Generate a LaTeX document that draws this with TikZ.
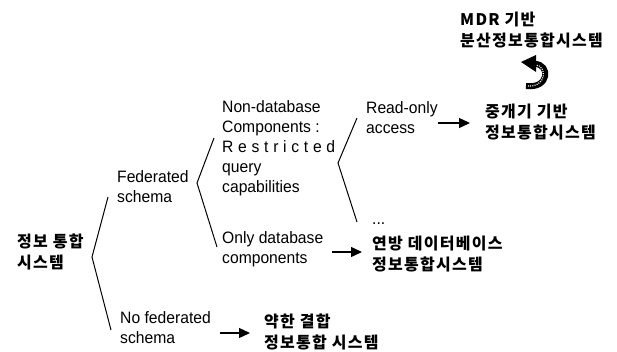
\documentclass[tikz,border=0pt]{standalone}
\usepackage{fontspec}
\setmainfont{Liberation Sans}[FakeStretch=0.95]
\newfontfamily\kr{Noto Sans CJK KR}[LetterSpace=8]
\usetikzlibrary{arrows.meta}
\tikzset{
  en/.style={anchor=base west, inner sep=0pt, align=left, font=\fontsize{16.5}{20}\selectfont},
  ko/.style={anchor=base west, inner sep=0pt, align=left, font=\kr\bfseries\fontsize{16}{21}\selectfont},
  brk/.style={line width=1pt},
  arr/.style={line width=1.3pt, -{Triangle[length=11pt,width=10pt]}},
}
\begin{document}
\begin{tikzpicture}[x=1pt,y=-1pt]
\useasboundingbox (0,0) rectangle (617,351);
% text blocks (anchored at the baseline of their last line)
\node[ko] (root) at (17,268) {정보 통합\\시스템};
\node[en] (fed) at (117,202) {Federated\\schema};
\node[en] (nofed) at (120,343) {No federated\\schema};
\node[ko] (weak) at (264,348) {약한 결합\\정보통합 시스템};
\node[en] (nondb) at (222,192) {Non-database\\Components :\\\makebox[113pt][s]{R e s t r i c t e d}\\query\\capabilities};
\node[en] (onlydb) at (222,263) {Only database\\components};
\node[en] (dots) at (372,224) {...};
\node[ko] (fedsys) at (372,270) {연방 데이터베이스\\정보통합시스템};
\node[en] (ro) at (366,133) {Read-only\\access};
\node[ko] (med) at (485,138) {중개기 기반\\정보통합시스템};
\node[ko] (mdr) at (460,46) {MDR 기반\\분산정보통합시스템};
% brackets
\coordinate (b1t) at (108,197); \coordinate (b1v) at (92,257); \coordinate (b1b) at (111,330);
\coordinate (b2t) at (214,138); \coordinate (b2v) at (197,183); \coordinate (b2b) at (217,247);
\coordinate (b3t) at (357,118); \coordinate (b3v) at (338,163); \coordinate (b3b) at (357,222);
\draw[brk] (b1t) -- (b1v) -- (b1b);
\draw[brk] (b2t) -- (b2v) -- (b2b);
\draw[brk] (b3t) -- (b3v) -- (b3b);
% arrows
\coordinate (a1s) at (220,333); \coordinate (a1e) at (250,333);
\coordinate (a2s) at (332,252); \coordinate (a2e) at (362,252);
\coordinate (a3s) at (438,123); \coordinate (a3e) at (470,123);
\draw[arr] (a1s) -- (a1e);
\draw[arr] (a2s) -- (a2e);
\draw[arr] (a3s) -- (a3e);
% curved arrow
\coordinate (ct) at (526,86); \coordinate (ch) at (535,64); \coordinate (ctip) at (521,62);
\draw[line width=6pt] (ct) .. controls (550,89) and (550,64) .. (ch);
\draw[white, line width=1.2pt, dash pattern=on 1pt off 1.2pt] (528,86) .. controls (547,87) and (547,66) .. (536,65);
\fill (ctip) -- (536,55) -- (536,72) -- cycle;
\end{tikzpicture}
\end{document}
